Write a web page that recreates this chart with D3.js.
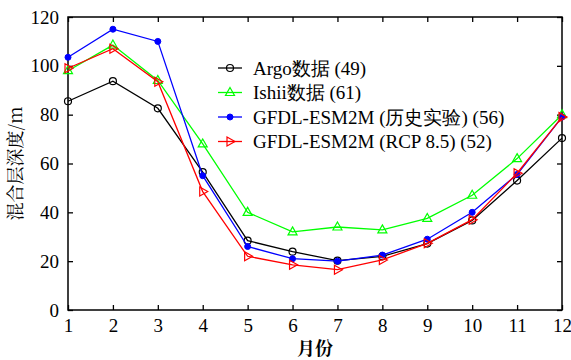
<!DOCTYPE html>
<html>
<head>
<meta charset="utf-8">
<script src="https://cdn.jsdelivr.net/npm/d3@7"></script>
</head>
<body style="margin:0">
<script>
// months on the x axis
const months = d3.range(1, 13);
const yTicks = [0, 20, 40, 60, 80, 100, 120];

const argo = [85.5, 93.7, 82.6, 56.5, 28.4, 23.9, 20.2, 22, 27.2, 36.7, 53, 70.4];
const ishii = [98, 108.5, 94, 68, 40, 32, 34, 32.8, 37.5, 47, 62, 80];
const gfdlHist = [103.5, 115, 110, 55, 26, 21, 20, 22.5, 29, 40, 55.5, 79];
const gfdlRcp = [99, 107, 93.5, 48.5, 22, 18.5, 16.5, 20.5, 27.3, 37, 56, 79];

const seriesNames = ["Argo数据 (49)", "Ishii数据 (61)", "GFDL-ESM2M (历史实验) (56)", "GFDL-ESM2M (RCP 8.5) (52)"];
const seriesColors = ["#000000", "#00ff00", "#0000ff", "#ff0000"];
const seriesMarkers = ["circle", "triangle", "dot", "right"];
const allSeries = [argo, ishii, gfdlHist, gfdlRcp];

var margin = {top: 17, right: 9, bottom: 50, left: 68},
    width = 571 - margin.left - margin.right,
    height = 360 - margin.top - margin.bottom;

var xScale = d3.scaleLinear().domain([1, 12]).range([0, width]);
var yScale = d3.scaleLinear().domain([0, 120]).range([height, 0]);

var svg = d3.select("body").append("svg")
    .attr("width", 571)
    .attr("height", 360);

var g = svg.append("g")
    .attr("transform", "translate(" + margin.left + "," + margin.top + ")");

function styleAxis(a) {
    a.attr("font-family", "Liberation Serif").attr("font-size", 19);
    a.select(".domain").remove();
    a.selectAll("line").attr("stroke", "#000").attr("stroke-width", 1.3);
    a.selectAll("text").attr("fill", "#000");
}

// bottom axis
g.append("g")
    .attr("transform", "translate(0," + height + ")")
    .call(d3.axisBottom(xScale).tickValues(months).tickFormat(d3.format("d")).tickSizeInner(-5).tickPadding(9))
    .call(styleAxis);

// top ticks
g.append("g")
    .call(d3.axisTop(xScale).tickValues(months).tickFormat("").tickSizeInner(-5))
    .call(styleAxis);

// left axis
g.append("g")
    .call(d3.axisLeft(yScale).tickValues(yTicks).tickSizeInner(-5).tickPadding(9))
    .call(styleAxis);

// right ticks
g.append("g")
    .attr("transform", "translate(" + width + ",0)")
    .call(d3.axisRight(yScale).tickValues(yTicks).tickFormat("").tickSizeInner(-5))
    .call(styleAxis);

// frame
g.append("rect")
    .attr("width", width).attr("height", height)
    .attr("fill", "none").attr("stroke", "#000").attr("stroke-width", 1.5);

var line = d3.line()
    .x(function(d, i) { return xScale(months[i]); })
    .y(function(d) { return yScale(d); });

function drawMarker(p, type, color, x, y) {
    if (type === "circle") {
        p.append("circle").attr("cx", x).attr("cy", y).attr("r", 3.5)
            .attr("fill", "none").attr("stroke", color).attr("stroke-width", 1.2);
    } else if (type === "dot") {
        p.append("circle").attr("cx", x).attr("cy", y).attr("r", 3)
            .attr("fill", color).attr("stroke", color);
    } else if (type === "triangle") {
        p.append("path").attr("transform", "translate(" + x + "," + y + ")")
            .attr("d", "M0,-5L4.5,3L-4.5,3Z")
            .attr("fill", "none").attr("stroke", color).attr("stroke-width", 1.2);
    } else if (type === "right") {
        p.append("path").attr("transform", "translate(" + x + "," + y + ")")
            .attr("d", "M5,0L-3,-4.5L-3,4.5Z")
            .attr("fill", "none").attr("stroke", color).attr("stroke-width", 1.2);
    }
}

allSeries.forEach(function(data, k) {
    g.append("path")
        .datum(data)
        .attr("fill", "none")
        .attr("stroke", seriesColors[k])
        .attr("stroke-width", 1.3)
        .attr("d", line);
    var mg = g.append("g");
    data.forEach(function(v, i) {
        drawMarker(mg, seriesMarkers[k], seriesColors[k], xScale(months[i]), yScale(v));
    });
});

// legend
var legend = g.append("g").attr("transform", "translate(150,51)");
seriesNames.forEach(function(name, k) {
    var row = legend.append("g").attr("transform", "translate(0," + (k * 24.5) + ")");
    row.append("line").attr("x1", 0).attr("x2", 24).attr("y1", 0).attr("y2", 0)
        .attr("stroke", seriesColors[k]).attr("stroke-width", 1.3);
    drawMarker(row, seriesMarkers[k], seriesColors[k], 12, 0);
    row.append("text").attr("x", 35).attr("y", 6.5)
        .attr("font-family", "Liberation Serif")
        .attr("font-size", 19).attr("fill", "#000").text(name);
});

// axis titles
g.append("text")
    .attr("x", width / 2).attr("y", height + 45)
    .attr("text-anchor", "middle")
    .attr("font-family", "Noto Serif CJK SC")
    .attr("font-size", 18).attr("font-weight", "bold")
    .text("月份");

g.append("text")
    .attr("transform", "translate(-46," + (height / 2) + ") rotate(-90)")
    .attr("text-anchor", "middle")
    .attr("font-family", "Noto Serif CJK SC")
    .attr("font-size", 18)
    .text("混合层深度/m");
</script>
</body>
</html>
